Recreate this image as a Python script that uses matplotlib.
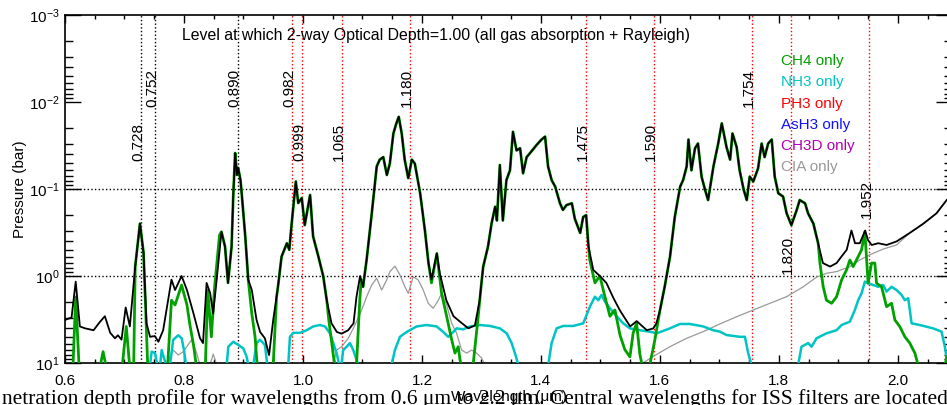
import numpy as np
import matplotlib.pyplot as plt
from matplotlib.ticker import MultipleLocator, LogLocator, FormatStrFormatter

plt.rcParams['font.family'] = ['Liberation Sans', 'DejaVu Sans']
plt.rcParams['mathtext.fontset'] = 'custom'
plt.rcParams['mathtext.rm'] = 'Liberation Sans'

# ---------------------------------------------------------------------------
# Dados (comprimento de onda em um, pressão em bar)
# ---------------------------------------------------------------------------
wl_total = [0.600, 0.611, 0.618, 0.625, 0.634, 0.648, 0.659, 0.667, 0.676, 0.684,
            0.689, 0.695, 0.702, 0.709, 0.718, 0.726, 0.732, 0.737, 0.743, 0.751,
            0.757, 0.765, 0.779, 0.785, 0.796, 0.805, 0.816, 0.827, 0.832, 0.838,
            0.844, 0.849, 0.855, 0.863, 0.869, 0.874, 0.880, 0.883, 0.886, 0.889,
            0.891, 0.895, 0.897, 0.903, 0.908, 0.914, 0.922, 0.928, 0.936, 0.943,
            0.950, 0.958, 0.964, 0.973, 0.977, 0.981, 0.988, 0.992, 0.998, 1.003,
            1.012, 1.017, 1.026, 1.034, 1.040, 1.048, 1.057, 1.065, 1.076, 1.085,
            1.090, 1.096, 1.101, 1.107, 1.115, 1.124, 1.129, 1.135, 1.141, 1.146,
            1.152, 1.157, 1.161, 1.166, 1.171, 1.177, 1.183, 1.188, 1.197, 1.205,
            1.211, 1.216, 1.225, 1.230, 1.241, 1.253, 1.264, 1.278, 1.289, 1.297,
            1.303, 1.311, 1.317, 1.323, 1.326, 1.331, 1.336, 1.342, 1.348, 1.353,
            1.359, 1.365, 1.370, 1.376, 1.384, 1.393, 1.401, 1.407, 1.412, 1.418,
            1.424, 1.432, 1.437, 1.443, 1.452, 1.457, 1.466, 1.471, 1.476, 1.480,
            1.488, 1.499, 1.510, 1.522, 1.533, 1.550, 1.561, 1.578, 1.589, 1.594,
            1.600, 1.608, 1.617, 1.625, 1.634, 1.639, 1.645, 1.648, 1.653, 1.659,
            1.664, 1.670, 1.676, 1.681, 1.690, 1.698, 1.704, 1.712, 1.718, 1.722,
            1.729, 1.734, 1.741, 1.746, 1.751, 1.757, 1.765, 1.771, 1.776, 1.782,
            1.788, 1.793, 1.799, 1.807, 1.813, 1.821, 1.830, 1.835, 1.844, 1.849,
            1.858, 1.866, 1.874, 1.886, 1.897, 1.905, 1.914, 1.922, 1.928, 1.936,
            1.945, 1.950, 1.956, 1.967, 1.981, 1.998, 2.020, 2.043, 2.065, 2.082]
p_total = [3.2, 3.0, 1.16, 3.8, 4.0, 4.2, 3.35, 2.9, 4.5, 5.2,
           4.8, 5.4, 2.3, 3.8, 0.78, 0.25, 0.54, 3.5, 5.0, 4.9,
           5.7, 4.2, 1.1, 1.45, 1.0, 1.45, 2.7, 5.2, 5.9, 1.2,
           1.57, 2.7, 1.1, 0.31, 0.46, 1.2, 0.46, 0.112, 0.0386, 0.069,
           0.057, 0.079, 0.112, 0.35, 1.1, 1.45, 3.2, 4.4, 5.2, 8.1,
           3.2, 1.33, 0.6, 0.42, 0.50, 0.25, 0.082, 0.145, 0.127, 0.26,
           0.117, 0.35, 0.6, 1.0, 1.9, 3.5, 4.4, 4.6, 4.2, 3.5,
           1.73, 1.0, 1.33, 0.65, 0.21, 0.055, 0.046, 0.043, 0.069, 0.051,
           0.023, 0.0176, 0.0148, 0.023, 0.046, 0.075, 0.046, 0.051, 0.112, 0.30,
           0.71, 1.1, 0.55, 0.93, 1.9, 2.9, 3.35, 4.0, 3.7, 1.9,
           0.78, 0.46, 0.25, 0.16, 0.23, 0.053, 0.23, 0.079, 0.061, 0.022,
           0.036, 0.034, 0.066, 0.043, 0.037, 0.031, 0.027, 0.025, 0.055, 0.079,
           0.094, 0.146, 0.174, 0.153, 0.146, 0.22, 0.32, 0.21, 0.20, 0.46,
           0.85, 1.0, 1.2, 1.8, 2.5, 3.8, 3.3, 4.2, 4.0, 3.5,
           2.5, 1.33, 0.6, 0.21, 0.094, 0.079, 0.055, 0.027, 0.061, 0.034,
           0.030, 0.072, 0.103, 0.134, 0.055, 0.030, 0.0176, 0.033, 0.046, 0.023,
           0.033, 0.061, 0.103, 0.134, 0.072, 0.082, 0.058, 0.030, 0.043, 0.030,
           0.027, 0.072, 0.112, 0.122, 0.19, 0.26, 0.174, 0.134, 0.146, 0.19,
           0.25, 0.42, 0.71, 0.78, 0.71, 0.60, 0.50, 0.30, 0.42, 0.42,
           0.30, 0.39, 0.44, 0.42, 0.44, 0.40, 0.32, 0.25, 0.19, 0.134]

# CH4: valores > 10 bar = abaixo do limite do gráfico
wl_ch4 = [0.600, 0.6135, 0.618, 0.6235, 0.640, 0.6595, 0.664, 0.6685, 0.685, 0.6965,
          0.703, 0.7085, 0.712, 0.7155, 0.718, 0.726, 0.732, 0.736, 0.739, 0.750,
          0.7726, 0.779, 0.785, 0.796, 0.805, 0.810, 0.816, 0.8205, 0.828, 0.836,
          0.840, 0.846, 0.8515, 0.8597, 0.863, 0.869, 0.874, 0.880, 0.883, 0.886,
          0.889, 0.891, 0.895, 0.897, 0.903, 0.908, 0.914, 0.9195, 0.923, 0.935,
          0.950, 0.9557, 0.958, 0.964, 0.973, 0.977, 0.981, 0.988, 0.992, 0.998,
          1.003, 1.012, 1.017, 1.026, 1.034, 1.040, 1.0434, 1.0518, 1.054, 1.070,
          1.090, 1.0955, 1.098, 1.101, 1.107, 1.115, 1.124, 1.129, 1.135, 1.141,
          1.146, 1.152, 1.157, 1.161, 1.166, 1.171, 1.177, 1.183, 1.188, 1.197,
          1.205, 1.211, 1.216, 1.225, 1.233, 1.2415, 1.250, 1.2555, 1.261, 1.264,
          1.266, 1.275, 1.286, 1.2946, 1.300, 1.303, 1.311, 1.317, 1.323, 1.326,
          1.331, 1.336, 1.342, 1.348, 1.353, 1.359, 1.365, 1.370, 1.376, 1.384,
          1.393, 1.401, 1.407, 1.412, 1.418, 1.424, 1.432, 1.437, 1.443, 1.452,
          1.457, 1.466, 1.471, 1.476, 1.480, 1.482, 1.4908, 1.499, 1.5076, 1.516,
          1.5244, 1.533, 1.541, 1.5496, 1.5551, 1.5608, 1.5664, 1.570, 1.576, 1.583,
          1.5916, 1.600, 1.608, 1.617, 1.625, 1.634, 1.639, 1.645, 1.648, 1.653,
          1.659, 1.664, 1.670, 1.676, 1.681, 1.690, 1.698, 1.704, 1.712, 1.718,
          1.722, 1.729, 1.734, 1.741, 1.746, 1.751, 1.757, 1.765, 1.771, 1.776,
          1.782, 1.788, 1.793, 1.799, 1.807, 1.813, 1.821, 1.830, 1.835, 1.844,
          1.849, 1.858, 1.866, 1.869, 1.8745, 1.880, 1.8886, 1.897, 1.9054, 1.9138,
          1.9193, 1.9249, 1.9333, 1.939, 1.9445, 1.950, 1.9558, 1.9613, 1.9642, 1.9726,
          1.981, 1.9894, 1.995, 2.0034, 2.0118, 2.020, 2.0286, 2.034, 2.050, 2.076,
          2.082]
p_ch4 = [15, 10.5, 1.74, 10.5, 15, 10.5, 7.4, 10.5, 15, 10.5,
         3.8, 10.5, 15, 10.5, 0.78, 0.25, 0.54, 3.0, 10.5, 15,
         10.5, 1.9, 2.15, 1.27, 2.15, 3.66, 6.2, 10.5, 15, 10.5,
         1.45, 5.0, 1.33, 0.34, 0.31, 0.46, 1.2, 0.46, 0.112, 0.0386,
         0.069, 0.057, 0.079, 0.112, 0.35, 1.1, 2.7, 5.0, 10.5, 15,
         10.5, 1.73, 1.33, 0.6, 0.42, 0.50, 0.25, 0.082, 0.145, 0.127,
         0.26, 0.117, 0.35, 0.6, 1.0, 1.9, 3.2, 8.9, 10.5, 15,
         10.5, 1.9, 1.1, 1.33, 0.65, 0.21, 0.055, 0.046, 0.043, 0.069,
         0.051, 0.023, 0.0176, 0.0148, 0.023, 0.046, 0.075, 0.046, 0.051, 0.112,
         0.30, 0.71, 1.2, 0.55, 1.58, 2.9, 5.4, 7.7, 6.5, 9.2,
         10.5, 15, 10.5, 2.9, 1.2, 0.78, 0.46, 0.25, 0.16, 0.23,
         0.053, 0.23, 0.079, 0.061, 0.022, 0.036, 0.034, 0.066, 0.043, 0.037,
         0.031, 0.027, 0.025, 0.055, 0.079, 0.094, 0.146, 0.174, 0.153, 0.146,
         0.22, 0.32, 0.21, 0.20, 0.46, 0.65, 1.2, 1.0, 1.73, 2.9,
         2.46, 4.8, 7.0, 8.5, 4.5, 3.5, 8.0, 10.5, 15, 10.5,
         5.4, 2.5, 1.33, 0.6, 0.21, 0.094, 0.079, 0.055, 0.027, 0.061,
         0.034, 0.030, 0.072, 0.103, 0.134, 0.055, 0.030, 0.0176, 0.033, 0.046,
         0.023, 0.033, 0.061, 0.103, 0.134, 0.072, 0.082, 0.058, 0.030, 0.043,
         0.030, 0.027, 0.072, 0.112, 0.122, 0.19, 0.26, 0.174, 0.134, 0.146,
         0.19, 0.25, 0.42, 0.71, 1.33, 1.9, 2.06, 1.73, 1.11, 0.85,
         0.655, 0.78, 0.6, 0.50, 0.31, 1.21, 0.71, 0.71, 1.21, 1.33,
         2.25, 2.06, 3.2, 3.83, 5.0, 5.9, 7.7, 10.5, 15, 15,
         8.5]

wl_nh3 = [0.740, 0.7429, 0.7457, 0.7513, 0.7551, 0.7585, 0.7625, 0.7664, 0.770, 0.773,
          0.7765, 0.782, 0.7904, 0.7961, 0.800, 0.8034, 0.840, 0.8718, 0.8745, 0.8829,
          0.8913, 0.8997, 0.9054, 0.908, 0.912, 0.9165, 0.9222, 0.9277, 0.9361, 0.940,
          0.960, 0.9753, 0.9781, 0.9837, 0.995, 1.0062, 1.0173, 1.0286, 1.037, 1.0454,
          1.051, 1.0566, 1.061, 1.0635, 1.0677, 1.0734, 1.079, 1.0845, 1.090, 1.093,
          1.120, 1.149, 1.1546, 1.163, 1.1743, 1.191, 1.2079, 1.2247, 1.2358, 1.2442,
          1.2526, 1.2583, 1.2694, 1.2807, 1.2975, 1.3143, 1.3311, 1.3424, 1.3508, 1.358,
          1.3618, 1.385, 1.4123, 1.418, 1.4264, 1.4375, 1.4543, 1.4711, 1.4824, 1.4908,
          1.4963, 1.502, 1.5076, 1.516, 1.5272, 1.5383, 1.5496, 1.5664, 1.586, 1.5945,
          1.6168, 1.6336, 1.6504, 1.6728, 1.6896, 1.7008, 1.712, 1.7345, 1.7429, 1.7484,
          1.754, 1.790, 1.8324, 1.838, 1.8492, 1.8549, 1.8633, 1.880, 1.8969, 1.9054,
          1.9193, 1.9277, 1.9333, 1.939, 1.9445, 1.950, 1.9585, 1.9669, 1.9753, 1.981,
          1.9894, 1.9978, 2.0062, 2.0118, 2.0174, 2.0231, 2.037, 2.0593, 2.0734, 2.079,
          2.0824, 2.090]
p_nh3 = [15, 10.5, 7.4, 7.7, 10.5, 13, 7.1, 8.8, 10.5, 15,
         10.5, 5.4, 4.8, 5.2, 7.1, 10.5, 15, 10.5, 6.5, 5.7,
         6.2, 6.8, 8.5, 10.5, 15, 10.5, 5.9, 5.4, 6.2, 10.5,
         15, 10.5, 5.0, 4.5, 4.5, 4.2, 3.8, 3.66, 3.8, 4.56,
         5.9, 7.7, 10.5, 12, 7.1, 6.5, 5.9, 7.1, 9.2, 10.5,
         15, 10.5, 7.1, 5.0, 4.4, 3.8, 3.66, 3.8, 4.4, 5.0,
         4.4, 4.0, 4.1, 3.8, 3.66, 3.75, 4.0, 4.56, 5.9, 8.4,
         10.5, 15, 10.5, 5.9, 4.0, 3.75, 3.75, 3.5, 2.25, 1.73,
         1.9, 1.65, 1.97, 2.35, 2.9, 3.5, 4.0, 4.2, 4.4, 4.56,
         4.0, 3.56, 3.56, 3.8, 4.2, 4.36, 4.77, 5.0, 5.0, 7.7,
         10.5, 15, 10.5, 6.5, 5.9, 6.5, 5.2, 4.56, 4.2, 3.66,
         3.35, 2.46, 1.9, 1.58, 1.16, 1.21, 1.27, 1.33, 1.27, 1.51,
         1.33, 1.45, 1.65, 1.9, 1.8, 3.5, 3.66, 4.0, 4.36, 6.5,
         9.2, 15]

wl_cia = [0.765, 0.770, 0.782, 0.7904, 0.7988, 0.813, 0.8213, 0.8269, 0.835, 0.8437,
          0.8492, 0.855, 0.900, 1.051, 1.0566, 1.065, 1.0761, 1.0874, 1.0987, 1.107,
          1.1155, 1.1239, 1.1323, 1.1407, 1.1462, 1.1546, 1.163, 1.1714, 1.177, 1.1854,
          1.1938, 1.2022, 1.2106, 1.219, 1.2274, 1.2331, 1.2415, 1.250, 1.2583, 1.2667,
          1.2751, 1.2835, 1.2919, 1.3003, 1.3059, 1.400, 1.5664, 1.5888, 1.6168, 1.6449,
          1.6728, 1.7008, 1.7289, 1.7568, 1.7849, 1.8129, 1.8409, 1.8633, 1.880, 1.8969,
          1.9193, 1.9361, 1.9529, 1.9753, 1.9978, 2.020, 2.0425, 2.065, 2.0824]
p_cia = [15, 10.5, 7.1, 8.1, 7.4, 5.4, 7.7, 10.5, 15, 10.5,
         7.9, 10.5, 15, 10.5, 7.1, 6.5, 5.2, 3.66, 2.46, 1.73,
         1.27, 1.06, 1.45, 1.11, 0.89, 0.77, 0.97, 1.33, 1.58, 1.02,
         1.11, 1.45, 2.06, 2.35, 1.9, 1.58, 2.15, 3.5, 4.56, 7.1,
         7.7, 7.1, 7.7, 8.8, 10.5, 15, 10.5, 8.4, 6.5, 5.2,
         4.36, 3.56, 2.94, 2.46, 2.06, 1.73, 1.33, 1.03, 0.93, 0.89,
         0.78, 0.655, 0.57, 0.49, 0.44, 0.32, 0.25, 0.19, 0.134]

# filtros ISS (linhas pontilhadas) e altura dos rótulos
filt_black = [0.728, 0.752, 0.890]
filt_red = [0.982, 0.999, 1.065, 1.180, 1.475, 1.590, 1.754, 1.820, 1.952]
filt_all = [0.728, 0.752, 0.890, 0.982, 0.999, 1.065, 1.180, 1.475, 1.590, 1.754, 1.820, 1.952]
label_p = [0.029, 0.0069, 0.0069, 0.0069, 0.029, 0.029, 0.0069, 0.029, 0.029, 0.0069, 0.57, 0.13]

legend_names = ['CH4 only', 'NH3 only', 'PH3 only', 'AsH3 only', 'CH3D only', 'CIA only']
legend_colors = ['#00a000', '#00c4c4', '#ff0000', '#1010ff', '#b000b0', '#999999']

# ---------------------------------------------------------------------------
# Figura
# ---------------------------------------------------------------------------
W, H = 947, 405
fig = plt.figure(figsize=(W / 100, H / 100), dpi=100)
x0, x1, y0, y1 = 65, 952, 15, 363
ax = fig.add_axes([x0 / W, 1 - y1 / H, (x1 - x0) / W, (y1 - y0) / H])

ax.plot(wl_cia, p_cia, color=legend_colors[5], lw=0.9, zorder=2)
ax.plot(wl_nh3, p_nh3, color=legend_colors[1], lw=1.8, zorder=3)
ax.plot(wl_ch4, p_ch4, color=legend_colors[0], lw=2.0, zorder=4)
ax.plot(wl_total, p_total, color='k', lw=1.3, zorder=5)

for w in filt_black:
    ax.axvline(w, color='k', ls=':', lw=1.0, zorder=1)
for w in filt_red:
    ax.axvline(w, color='red', ls=':', lw=1.0, zorder=1)
for w, p in zip(filt_all, label_p):
    ax.text(w + 0.002, p, f"{w:.3f}", rotation=90, rotation_mode='anchor',
            ha='center', va='baseline', fontsize=11, zorder=6)

for p in (0.1, 1.0):
    ax.axhline(p, color='k', ls=':', lw=1.0, zorder=1)

ax.set_yscale('log')
ax.set_ylim(10, 1e-3)
ax.set_xlim(0.6, 2.091)
ax.xaxis.set_major_locator(MultipleLocator(0.2))
ax.xaxis.set_minor_locator(MultipleLocator(0.05))
ax.xaxis.set_major_formatter(FormatStrFormatter('%.1f'))
ax.yaxis.set_minor_locator(LogLocator(base=10, subs=np.arange(2, 10)))
ax.tick_params(which='both', direction='in', top=True, right=True, labelsize=11, width=1)
ax.tick_params(axis='x', which='major', length=6, pad=8)
ax.tick_params(axis='x', which='minor', length=3)
ax.tick_params(axis='y', which='major', length=11.5, pad=4)
ax.tick_params(axis='y', which='minor', length=5.8)
for s in ax.spines.values():
    s.set_linewidth(1.2)

ax.set_ylabel('Pressure (bar)', fontsize=11)
ax.yaxis.set_label_coords(-0.043, 0.5)
ax.set_xlabel('Wavelength (μm)', fontsize=11, labelpad=1)

ax.text(0.132, 0.9425, 'Level at which 2-way Optical Depth=1.00 (all gas absorption + Rayleigh)',
        transform=ax.transAxes, fontsize=11.4, va='center', ha='left')
for i, (name, c) in enumerate(zip(legend_names, legend_colors)):
    ax.text(0.807, 0.868 - i * 0.0612, name, color=c, fontsize=11,
            transform=ax.transAxes, va='center', ha='left')

fig.text(2 / W, 1 - 404 / H,
         'netration depth profile for wavelengths from 0.6 μm to 2.2 μm. '
         'Central wavelengths for ISS filters are located',
         family='Liberation Serif', fontsize=15.5, ha='left', va='baseline')

fig.savefig('out.png', dpi=100)
